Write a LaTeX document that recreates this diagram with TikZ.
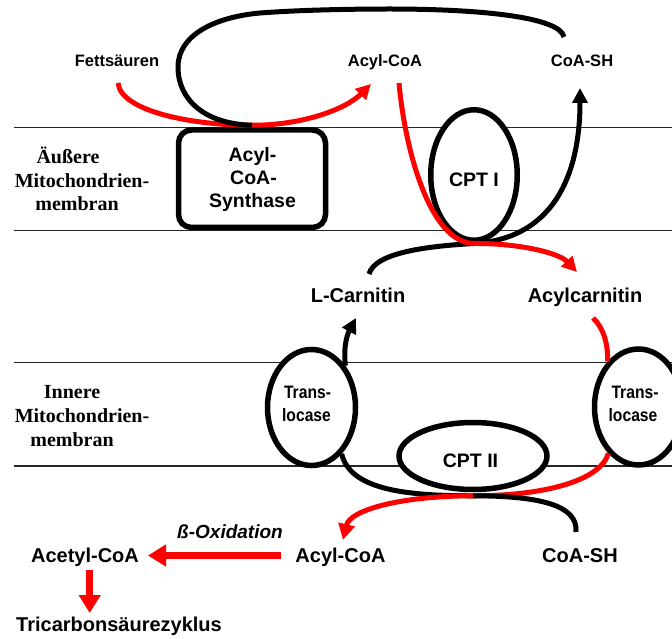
\documentclass[tikz,border=0pt]{standalone}
\usepackage{fontspec}
\newfontfamily\sansf{Liberation Sans}
\newfontfamily\seriff{Liberation Serif}
\usetikzlibrary{shapes.geometric,arrows.meta}
\definecolor{rd}{RGB}{255,0,0}
\begin{document}
\begin{tikzpicture}[x=1pt,y=-1pt,
  mem/.style={line width=1.2pt,black!85},
  enz/.style={draw,line width=5.5pt,fill=white,inner sep=0pt},
  ell/.style={enz,ellipse},
  lab/.style={font=\sansf\bfseries\fontsize{20}{24}\selectfont,inner sep=0pt,anchor=base},
  toplab/.style={lab,font=\sansf\bfseries\fontsize{16.5}{20}\selectfont},
  enzlab/.style={lab,font=\sansf\bfseries\fontsize{19.5}{24}\selectfont},
  boxlab/.style={lab,font=\sansf\bfseries\fontsize{19.5}{24}\selectfont},
  translab/.style={lab,font=\sansf\bfseries\fontsize{18}{22}\selectfont,xscale=0.87},
  betalab/.style={lab,font=\sansf\bfseries\itshape\fontsize{19}{22}\selectfont},
  memlab/.style={font=\seriff\bfseries\fontsize{20}{24}\selectfont,inner sep=0pt,anchor=base},
  blk/.style={line width=5pt,black},
  rpath/.style={line width=5pt,rd},
  tipA/.style={-{Triangle[length=15pt,width=15pt]}},
  bigarrow/.style={line width=7.5pt,rd,-{Triangle[length=18pt,width=21pt]}}
]
\clip (0,0) rectangle (672,639);

% membranes
\draw[mem] (14,127.5) -- (672,127.5);
\draw[mem] (14,230.5) -- (672,230.5);
\draw[mem] (14,362.5) -- (672,362.5);
\draw[mem] (14,466) -- (672,466);

\node[memlab] (m1a) at (68,163.3) {Äußere};
\node[memlab] (m1b) at (82,187.3) {Mitochondrien-};
\node[memlab] (m1c) at (77,210.7) {membran};
\node[memlab] (m2a) at (72,398.3) {Innere};
\node[memlab] (m2b) at (82,422.7) {Mitochondrien-};
\node[memlab] (m2c) at (72,446.7) {membran};

% enzymes
\node[enz,rectangle,rounded corners=13pt,minimum width=147pt,minimum height=97.5pt] (synth) at (252,178.75) {};
\node[ell,minimum width=86.5pt,minimum height=130.5pt] (cpt1) at (474,175) {};
\node[ell,minimum width=88pt,minimum height=116pt] (trans1) at (311.5,407.5) {};
\node[ell,minimum width=88pt,minimum height=116pt] (trans2) at (638.5,407) {};
\node[ell,minimum width=148pt,minimum height=67pt] (cpt2) at (473,456) {};

\node[boxlab] (s1) at (252.5,161.7) {Acyl-};
\node[boxlab] (s2) at (253.5,185) {CoA-};
\node[boxlab] (s3) at (252.5,207.3) {Synthase};
\node[enzlab] (c1) at (474,186.7) {CPT I};
\node[enzlab] (c2) at (470.5,467.7) {CPT II};
\node[translab] (t1a) at (307.5,398.3) {Trans-};
\node[translab] (t1b) at (306.5,421) {locase};
\node[translab] (t2a) at (635,398) {Trans-};
\node[translab] (t2b) at (633,421) {locase};

% metabolites
\node[toplab] (fett) at (117,66.5) {Fettsäuren};
\node[toplab] (acylT) at (385,67) {Acyl-CoA};
\node[toplab] (coashT) at (582,67) {CoA-SH};
\node[lab] (lcarn) at (358,302.7) {L-Carnitin};
\node[lab] (acarn) at (585,302.7) {Acylcarnitin};
\node[betalab] (beta) at (230,538.3) {ß-Oxidation};
\node[lab] (acetyl) at (85,562.7) {Acetyl-CoA};
\node[lab] (acylB) at (340.5,562.7) {Acyl-CoA};
\node[lab] (coashB) at (580,562.7) {CoA-SH};
\node[lab] (tca) at (119,631.7) {Tricarbonsäurezyklus};

% junction points and free ends
\coordinate (top) at ([yshift=2pt]synth.north);
\coordinate (j1) at ([yshift=-0.5pt]cpt1.south);
\coordinate (j2) at ([yshift=-3.5pt]cpt2.south);
\coordinate (fettE) at (118,83);
\coordinate (acylTin) at (371,84);
\coordinate (acylTout) at (399,83);
\coordinate (coashTin) at (580,88);
\coordinate (loopE) at (564,37);
\coordinate (lcarnIn) at (356,318);
\coordinate (lcarnOut) at (369,274);
\coordinate (acarnIn) at (577,272);
\coordinate (acarnOut) at (593,318);
\coordinate (acylBin) at (343,540);
\coordinate (coashBin) at (576,532);
\coordinate (b1) at (281,555.5);
\coordinate (b2) at (148,555.5);
\coordinate (d1) at (89.7,570);
\coordinate (d2) at (89.7,613);

% outer membrane
\draw[rpath,tipA] (fettE) .. controls (121,112) and (195,125.5) .. (top)
   .. controls (300,125.5) and (345,110) .. (acylTin);
\draw[blk] (top) .. controls (205,124) and (178,100) .. (178,67)
   .. controls (178,35) and (215,17) .. (260,13)
   .. controls (300,10) and (350,9) .. (390,9)
   .. controls (480,9) and (560,17) .. (loopE);
\draw[blk] (j1) .. controls (430,246) and (375,252) .. (lcarnOut);
\draw[blk,tipA] (j1) .. controls (560,238) and (580,165) .. (coashTin);
\draw[rpath] (acylTout) .. controls (405,150) and (430,243) .. (j1);
\draw[rpath,tipA] (j1) .. controls (515,243) and (558,252) .. (acarnIn);

% inner membrane
\draw[blk,-{Triangle[length=15pt,width=15pt]}] (trans1.51) .. controls (343,345) and (348,333) .. (lcarnIn);
\draw[rpath] (acarnOut) .. controls (604,328) and (608,345) .. (trans2.124);
\draw[rpath] (trans2.237) .. controls (600,482) and (540,496) .. (j2);
\draw[blk] (trans1.303) .. controls (350,488) and (400,496) .. (j2)
   .. controls (540,496) and (578,505) .. (coashBin);
\draw[rpath,-{Triangle[length=16pt,width=16pt]}] (j2) .. controls (400,496) and (350,510) .. (acylBin);

% matrix
\draw[bigarrow] (b1) -- (b2);
\draw[bigarrow] (d1) -- (d2);
\end{tikzpicture}
\end{document}
